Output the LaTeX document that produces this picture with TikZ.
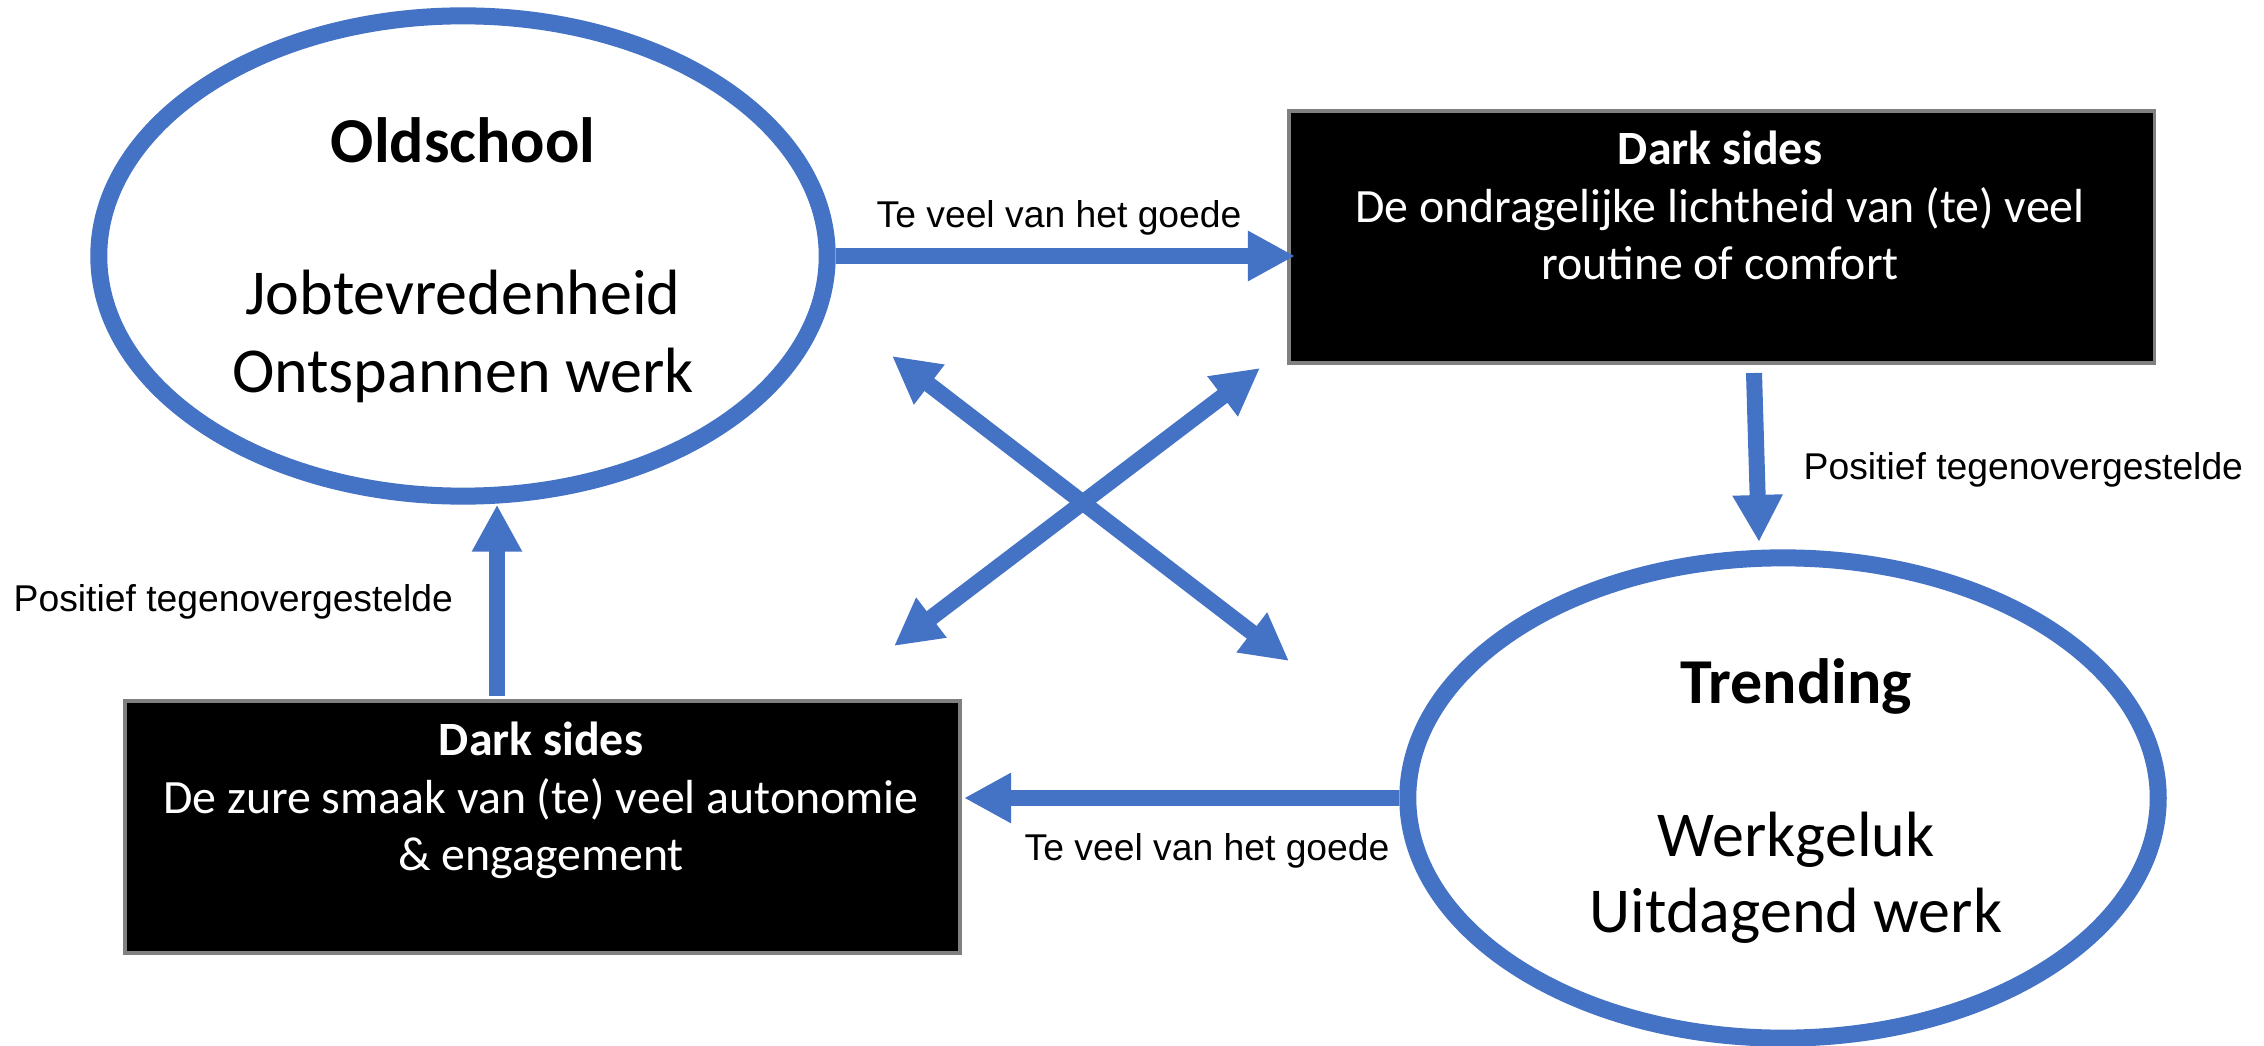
\documentclass[tikz,border=0pt]{standalone}
\usepackage{fontspec}
\setmainfont{Carlito}
\newfontfamily\arialf{Liberation Sans}
\usetikzlibrary{arrows.meta,shapes.geometric}
\definecolor{oblue}{HTML}{4472C4}
\definecolor{bgray}{HTML}{808080}
\begin{document}
\begin{tikzpicture}[x=0.01cm,y=-0.01cm,
  >={Triangle[length=0.47cm,width=0.47cm]},
  circ/.style={ellipse, draw=oblue, fill=white, line width=0.17cm, minimum width=7.28cm, minimum height=4.8cm, inner sep=0},
  darkbox/.style={rectangle, fill=black, draw=bgray, line width=1pt, inner sep=0},
  conn/.style={draw=oblue, line width=0.16cm, ->},
  bconn/.style={draw=oblue, line width=0.16cm, <->},
  big/.style={font=\fontsize{18.2}{22}\selectfont, anchor=base, inner sep=0},
  boxtxt/.style={font=\fontsize{13.6}{16}\selectfont, text=white, anchor=base, inner sep=0},
  lbl/.style={font=\arialf\fontsize{10.6}{12}\selectfont, anchor=base west, inner sep=0},
]
\useasboundingbox (0,0) rectangle (2264,1046);

\node[circ] (old) at (463,256) {};
\node[circ, minimum width=7.5cm] (trend) at (1783,798) {};
\node[darkbox, minimum width=8.65cm, minimum height=2.52cm] (rbox) at (1721.5,237) {};
\node[darkbox, minimum width=8.35cm, minimum height=2.52cm] (lbox) at (542.5,827) {};

\node[big] (oldt) at (463,163) {\bfseries Oldschool};
\node[big] (old1) at (463,315) {Jobtevredenheid};
\node[big] (old2) at (463,393) {Ontspannen werk};
\node[big] (trt) at (1796,703) {\bfseries Trending};
\node[big] (tr1) at (1796,856) {Werkgeluk};
\node[big] (tr2) at (1796,932) {Uitdagend werk};

\node[boxtxt] (rt0) at (1720,165) {\bfseries Dark sides};
\node[boxtxt] (rt1) at (1720,223) {De ondragelijke lichtheid van (te) veel};
\node[boxtxt] (rt2) at (1720,280) {routine of comfort};
\node[boxtxt] (lt0) at (541,755) {\bfseries Dark sides};
\node[boxtxt] (lt1) at (541,813) {De zure smaak van (te) veel autonomie};
\node[boxtxt] (lt2) at (541,870) {\& engagement};

\node[lbl] (l1) at (876,228) {Te veel van het goede};
\node[lbl] (l2) at (1024,860) {Te veel van het goede};
\node[lbl] (l3) at (1803,479) {Positief tegenovergestelde};
\node[lbl] (l4) at (13,611) {Positief tegenovergestelde};

\draw[conn] (old.east) -- ([xshift=0.08cm]old.east -| rbox.west);
\coordinate (d1) at (1754,373);
\coordinate (d2) at (1759,542);
\draw[conn] (d1) -- (d2);
\coordinate (u1) at (497,696);
\draw[conn] (u1) -- (u1 |- old.south);
\draw[conn] (trend.west) -- ([xshift=0.02cm]trend.west -| lbox.east);

\coordinate (x1) at (894,646);
\coordinate (x2) at (1260,368);
\coordinate (x3) at (892,356);
\coordinate (x4) at (1289,661);
\draw[bconn] (x1) -- (x2);
\draw[bconn] (x3) -- (x4);
\end{tikzpicture}
\end{document}
